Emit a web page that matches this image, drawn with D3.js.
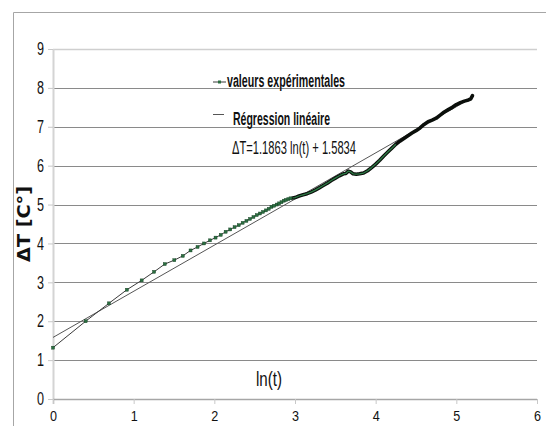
<!DOCTYPE html>
<html>
<head>
<meta charset="utf-8">
<script src="https://cdn.jsdelivr.net/npm/d3@7/dist/d3.min.js"></script>
<style>
  html, body { margin: 0; padding: 0; background: #ffffff; }
  svg { display: block; }
  text { font-family: "Liberation Sans Narrow", "Liberation Sans", Arial, sans-serif; fill: #111111; }
</style>
</head>
<body>
<svg id="chart" width="546" height="426"></svg>
<script>
// Experimental measurements: ln(t) and temperature rise ΔT (°C)
const lnT = [
  0, 0.405, 0.693, 0.916, 1.099, 1.253, 1.386, 1.504, 1.609, 1.705,
  1.792, 1.872, 1.946, 2.015, 2.079, 2.140, 2.197, 2.251, 2.303, 2.351,
  2.398, 2.442, 2.485, 2.526, 2.565, 2.603, 2.639, 2.674, 2.708, 2.741,
  2.773, 2.803, 2.833, 2.862, 2.890, 2.918, 2.944, 2.970,
  3.00, 3.05, 3.10, 3.15, 3.20, 3.25, 3.30, 3.35, 3.40, 3.45,
  3.50, 3.55, 3.60, 3.63, 3.66, 3.69, 3.72, 3.76, 3.80, 3.85,
  3.90, 3.95, 4.00, 4.05, 4.10, 4.15, 4.20, 4.25, 4.30, 4.35,
  4.40, 4.45, 4.50, 4.55, 4.60, 4.65, 4.70, 4.75, 4.80, 4.85,
  4.90, 4.95, 5.00, 5.05, 5.10, 5.15, 5.18, 5.20
];
const deltaT = [
  1.32, 2.00, 2.46, 2.81, 3.05, 3.27, 3.47, 3.57, 3.68, 3.82,
  3.91, 4.00, 4.08, 4.15, 4.22, 4.30, 4.36, 4.42, 4.47, 4.53,
  4.58, 4.63, 4.68, 4.73, 4.77, 4.81, 4.85, 4.89, 4.94, 4.97,
  5.00, 5.03, 5.06, 5.10, 5.12, 5.14, 5.16, 5.17,
  5.18, 5.22, 5.25, 5.28, 5.32, 5.37, 5.43, 5.49, 5.55, 5.62,
  5.68, 5.74, 5.79, 5.80, 5.86, 5.84, 5.79, 5.78, 5.79, 5.81,
  5.87, 5.95, 6.04, 6.14, 6.25, 6.35, 6.45, 6.55, 6.63, 6.70,
  6.77, 6.84, 6.90, 6.97, 7.06, 7.13, 7.17, 7.22, 7.30, 7.38,
  7.44, 7.50, 7.57, 7.62, 7.66, 7.69, 7.72, 7.80
];

// Linear fit ΔT = a·ln(t) + b
const slope = 1.1863;
const intercept = 1.5834;

const xTicks = [0, 1, 2, 3, 4, 5, 6];
const yTicks = [0, 1, 2, 3, 4, 5, 6, 7, 8, 9];

const legendLabels = ["valeurs expérimentales", "Régression linéaire"];
const equationLabel = "ΔT=1.1863 ln(t) + 1.5834";
const xTitle = "ln(t)";
const yTitle = "ΔT  [C°]";

const svg = d3.select("#chart");

// chart frame
svg.append("path")
  .attr("d", "M13.5,426 V12.5 H546")
  .attr("fill", "none").attr("stroke", "#a6a6a6").attr("stroke-width", 1);

const x = d3.scaleLinear().domain([0, 6]).range([53, 537]);
const y = d3.scaleLinear().domain([0, 9]).range([399, 49]);

// horizontal gridlines
svg.append("g").selectAll("line")
  .data(yTicks.filter(v => v > 0))
  .join("line")
  .attr("x1", x(0)).attr("x2", x(6))
  .attr("y1", d => Math.round(y(d)) + 0.5).attr("y2", d => Math.round(y(d)) + 0.5)
  .attr("stroke", d => d === 9 ? "#cfcfcf" : "#8a8a8a")
  .attr("stroke-width", d => d === 9 ? 1.5 : 1);

const tickFont = "'Liberation Sans Narrow','Liberation Sans',Arial,sans-serif";

// y axis
const yAxis = svg.append("g")
  .attr("transform", `translate(${x(0)},0)`)
  .call(d3.axisLeft(y).tickValues(yTicks).tickSize(5).tickPadding(4).tickFormat(d3.format("d")));
yAxis.select(".domain").attr("stroke", "#d4d4d4").attr("stroke-width", 2)
  .attr("d", `M0.5,${y(9)}V${y(0) + 5}`);
yAxis.selectAll(".tick line").attr("stroke", "#c8c8c8");
yAxis.selectAll(".tick text")
  .attr("font-size", 18).attr("fill", "#111111")
  .attr("textLength", 7).attr("lengthAdjust", "spacingAndGlyphs")
  .style("font-family", tickFont);

// x axis
const xAxis = svg.append("g")
  .attr("transform", `translate(0,${y(0)})`)
  .call(d3.axisBottom(x).tickValues(xTicks).tickSize(5).tickPadding(6).tickFormat(d3.format("d")));
xAxis.select(".domain").attr("stroke", "#a6a6a6").attr("stroke-width", 1.5)
  .attr("d", `M${x(0)},0.5H${x(6)}`);
xAxis.selectAll(".tick line").attr("stroke", "#c8c8c8");
xAxis.selectAll(".tick text")
  .attr("font-size", 15).attr("fill", "#111111")
  .attr("textLength", 7).attr("lengthAdjust", "spacingAndGlyphs")
  .style("font-family", tickFont);

// regression line
const fitX = [0, d3.max(lnT)];
svg.append("line")
  .attr("x1", x(fitX[0])).attr("y1", y(slope * fitX[0] + intercept))
  .attr("x2", x(fitX[1])).attr("y2", y(slope * fitX[1] + intercept))
  .attr("stroke", "#555555").attr("stroke-width", 1);

// experimental series
const pts = lnT.map((v, i) => ({ x: v, y: deltaT[i] }));
const line = d3.line().x(d => x(d.x)).y(d => y(d.y));
const denseStart = 2.96;

// the closely spaced readings merge into a thick band
const dense = pts.filter(d => d.x >= denseStart);
svg.append("path").datum(dense)
  .attr("d", line).attr("fill", "none")
  .attr("stroke", "#0b0f0b").attr("stroke-width", 3.6)
  .attr("stroke-linejoin", "round").attr("stroke-linecap", "round");
svg.append("path").datum(dense.filter(d => d.x <= 4.25))
  .attr("d", line).attr("fill", "none")
  .attr("stroke", "#2c7a45").attr("stroke-width", 1.3)
  .attr("stroke-linejoin", "round");

svg.append("path").datum(pts.filter(d => d.x <= denseStart + 0.01))
  .attr("d", line).attr("fill", "none")
  .attr("stroke", "#3a3a3a").attr("stroke-width", 1);

svg.append("g").selectAll("rect")
  .data(pts.filter(d => d.x < denseStart))
  .join("rect")
  .attr("x", d => x(d.x) - 1.5).attr("y", d => y(d.y) - 1.5)
  .attr("width", 3).attr("height", 3)
  .attr("fill", "#2a6e40").attr("stroke", "#123a1f").attr("stroke-width", 0.4);

// legend
const legend = svg.append("g");
legend.append("line").attr("x1", 213).attr("x2", 226).attr("y1", 82).attr("y2", 82)
  .attr("stroke", "#3a3a3a").attr("stroke-width", 1);
legend.append("rect").attr("x", 218).attr("y", 80.5).attr("width", 3).attr("height", 3)
  .attr("fill", "#2a6e40");
legend.append("text").attr("x", 227).attr("y", 87)
  .attr("font-size", 18).attr("font-weight", "bold")
  .attr("textLength", 118).attr("lengthAdjust", "spacingAndGlyphs")
  .text(legendLabels[0]);

legend.append("line").attr("x1", 213).attr("x2", 224).attr("y1", 114.5).attr("y2", 114.5)
  .attr("stroke", "#555555").attr("stroke-width", 1);
legend.append("text").attr("x", 233).attr("y", 124.5)
  .attr("font-size", 18).attr("font-weight", "bold")
  .attr("textLength", 97).attr("lengthAdjust", "spacingAndGlyphs")
  .text(legendLabels[1]);

legend.append("text").attr("x", 232).attr("y", 153.5)
  .attr("font-size", 18)
  .attr("textLength", 124).attr("lengthAdjust", "spacingAndGlyphs")
  .text(equationLabel);

// axis titles
svg.append("text").attr("x", 256).attr("y", 386)
  .attr("font-size", 20)
  .attr("textLength", 26).attr("lengthAdjust", "spacingAndGlyphs")
  .text(xTitle);

svg.append("text")
  .attr("transform", "translate(30,224) rotate(-90)")
  .attr("text-anchor", "middle")
  .attr("font-size", 17).attr("font-weight", "bold")
  .style("font-family", "'DejaVu Sans', sans-serif")
  .attr("textLength", 76).attr("lengthAdjust", "spacingAndGlyphs")
  .text(yTitle);
</script>
</body>
</html>
